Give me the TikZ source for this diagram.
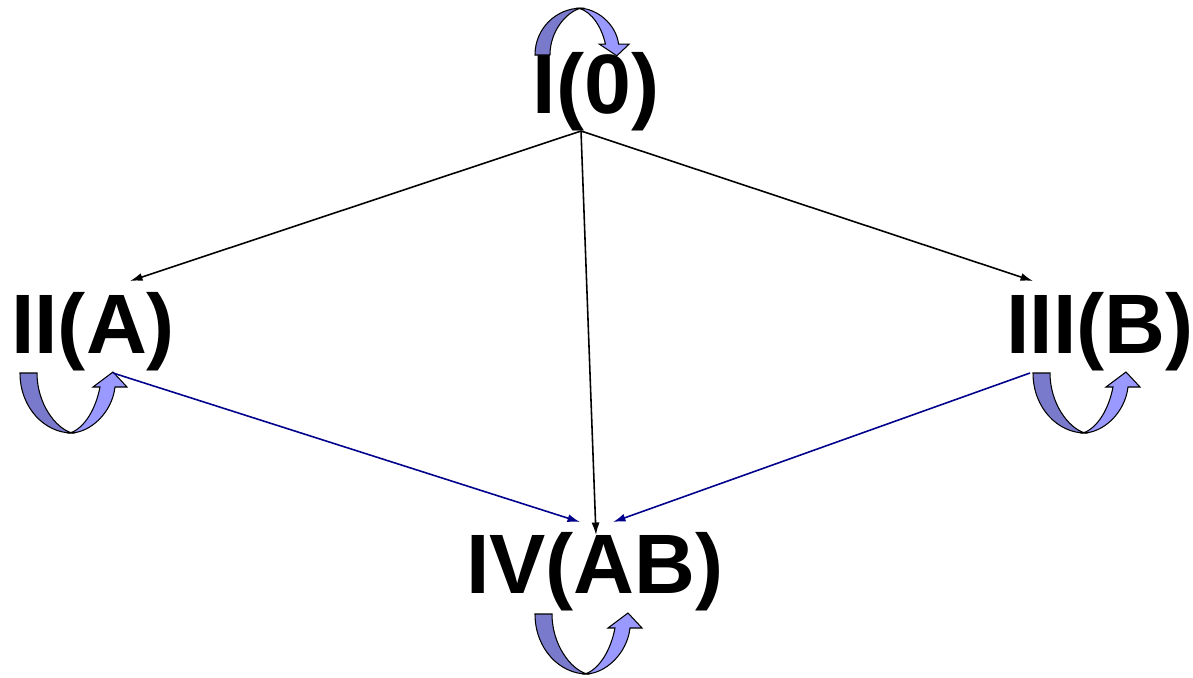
\documentclass[tikz,border=0pt]{standalone}
\usepackage{fontspec}
\setmainfont{Liberation Sans}
\usetikzlibrary{arrows.meta,positioning}

\definecolor{darkband}{RGB}{122,122,204}
\definecolor{lightband}{RGB}{153,153,255}
\definecolor{linkblue}{RGB}{0,0,140}

\begin{document}
\begin{tikzpicture}[x=0.02cm, y=-0.02cm]
    % Define styles
    \tikzset{
      state/.style={font=\fontsize{48}{57}\selectfont\bfseries, inner sep=0pt, anchor=base},
      link/.style={line width=0.9pt, -{Latex[length=2.5mm,width=1.6mm]}},
      uturn/.pic={
        \filldraw[fill=darkband, draw=black, line width=0.6pt]
          (0,0) -- (17,0) .. controls (17,30) and (35,55) .. (52,60)
          .. controls (25,60) and (0,35) .. (0,0) -- cycle;
        \filldraw[fill=lightband, draw=black, line width=0.6pt]
          (50,60) .. controls (70,60) and (92,40) .. (95,14) -- (107,14) -- (93,-1)
          -- (73,14) -- (80,14) .. controls (76,35) and (65,55) .. (50,60) -- cycle;
      }
    }
    \useasboundingbox (0,0) rectangle (1193,677);

    % Nodes
    \node [state] (s0) at (596,113) {I(0)};
    \node [state] (sA) at (93,353) {II(A)};
    \node [state] (sB) at (1100,353) {III(B)};
    \node [state] (sAB) at (595,593) {IV(AB)};

    % Self loops
    \pic [xscale=0.88, yscale=-0.78] at (535,55) {uturn};
    \pic at (20,373) {uturn};
    \pic at (1033,373) {uturn};
    \pic at (535,614) {uturn};

    % Connector ends
    \coordinate (out0) at (581,131);
    \coordinate (inA) at (130,281);
    \coordinate (inB) at (1033,281);
    \coordinate (inAB) at (596,535);
    \coordinate (outA) at (113,373);
    \coordinate (outB) at (1030,373);
    \coordinate (inABl) at (580,522);
    \coordinate (inABr) at (613,522);

    % Arrows
    \draw [link] (out0) -- (inA);
    \draw [link] (out0) -- (inB);
    \draw [link] (out0) -- (inAB);
    \draw [link, linkblue] (outA) -- (inABl);
    \draw [link, linkblue] (outB) -- (inABr);
\end{tikzpicture}
\end{document}
